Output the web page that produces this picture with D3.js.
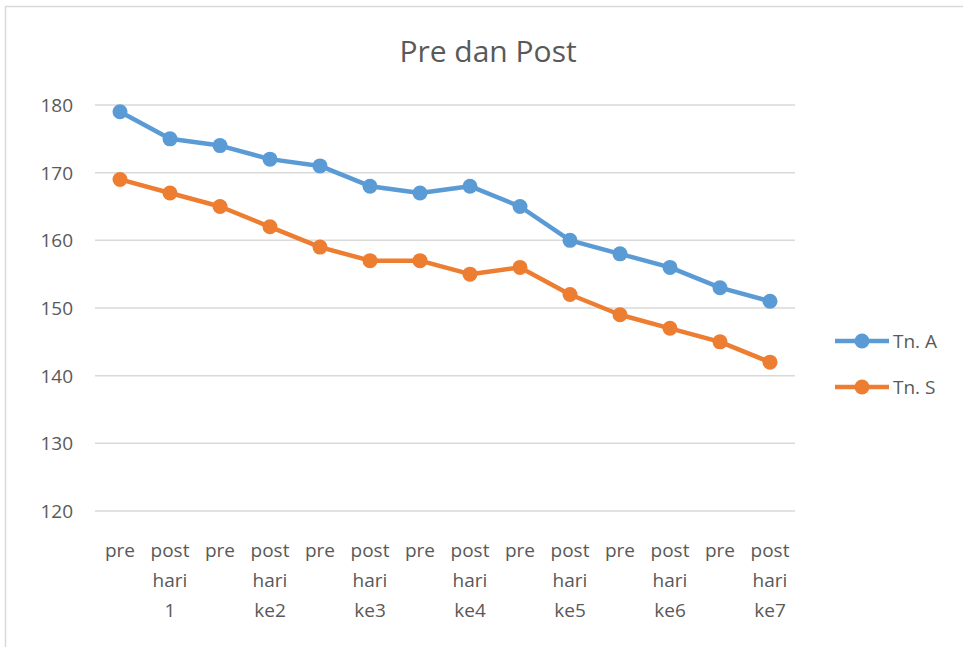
<!DOCTYPE html>
<html>
<head>
<meta charset="utf-8">
<script src="https://cdn.jsdelivr.net/npm/d3@7"></script>
<style>
  body { margin: 0; background: #fff; }
  text { font-family: "Open Sans", "Noto Sans", sans-serif; fill: #595959; }
</style>
</head>
<body>
<div id="chart"></div>
<script>
// categories and series
var categories = ["pre", "post hari 1", "pre", "post hari ke2", "pre", "post hari ke3", "pre",
                  "post hari ke4", "pre", "post hari ke5", "pre", "post hari ke6", "pre", "post hari ke7"];
var tnA = [179, 175, 174, 172, 171, 168, 167, 168, 165, 160, 158, 156, 153, 151];
var tnS = [169, 167, 165, 162, 159, 157, 157, 155, 156, 152, 149, 147, 145, 142];
var yTicks = [120, 130, 140, 150, 160, 170, 180];
var seriesNames = ["Tn. A", "Tn. S"];
var colors = ["#5b9bd5", "#ed7d31"];

var W = 963, H = 647;
var margin = {top: 105, right: 168, bottom: 136, left: 95};

var svg = d3.select("#chart").append("svg")
    .attr("width", W).attr("height", H);

// chart frame
svg.append("rect")
    .attr("x", 5.5).attr("y", 6.5)
    .attr("width", W + 10).attr("height", H + 10)
    .attr("fill", "#fff").attr("stroke", "#d9d9d9").attr("stroke-width", 1.5);

var idx = d3.range(categories.length);
var x = d3.scaleBand().domain(idx).range([margin.left, W - margin.right]);
var y = d3.scaleLinear().domain([120, 180]).range([H - margin.bottom, margin.top]);

// gridlines
svg.append("g").selectAll("line").data(yTicks).enter().append("line")
    .attr("x1", margin.left).attr("x2", W - margin.right)
    .attr("y1", function(d) { return y(d); }).attr("y2", function(d) { return y(d); })
    .attr("stroke", "#d9d9d9").attr("stroke-width", 1.5);

// y labels
svg.append("g").selectAll("text").data(yTicks).enter().append("text")
    .attr("x", 73).attr("y", function(d) { return y(d); })
    .attr("dy", "0.36em")
    .attr("text-anchor", "end")
    .style("font-size", "19px")
    .text(function(d) { return d; });

// x labels, wrapped like the original
var xl = svg.append("g").selectAll("text").data(idx).enter().append("text")
    .attr("x", function(d) { return x(d) + x.bandwidth() / 2; })
    .attr("y", 557)
    .attr("text-anchor", "middle")
    .style("font-size", "19px");
xl.each(function(d) {
  var words = categories[d].split(" ");
  var t = d3.select(this);
  words.forEach(function(w, i) {
    t.append("tspan")
      .attr("x", x(d) + x.bandwidth() / 2)
      .attr("dy", i === 0 ? 0 : 30)
      .text(w);
  });
});

// title
svg.append("text")
    .attr("x", 488).attr("y", 62)
    .attr("text-anchor", "middle")
    .style("font-size", "30px")
    .text("Pre dan Post");

var line = d3.line()
    .x(function(d, i) { return x(i) + x.bandwidth() / 2; })
    .y(function(d) { return y(d); });

[tnA, tnS].forEach(function(data, k) {
  svg.append("path")
      .datum(data)
      .attr("fill", "none")
      .attr("stroke", colors[k])
      .attr("stroke-width", 4.5)
      .attr("stroke-linejoin", "round")
      .attr("d", line);
  svg.append("g").selectAll("circle").data(data).enter().append("circle")
      .attr("cx", function(d, i) { return x(i) + x.bandwidth() / 2; })
      .attr("cy", function(d) { return y(d); })
      .attr("r", 7.5)
      .attr("fill", colors[k]);
});

// legend
var leg = svg.append("g").selectAll("g").data(seriesNames).enter().append("g")
    .attr("transform", function(d, i) { return "translate(835," + (341 + i * 46) + ")"; });
leg.append("line")
    .attr("x1", 0).attr("x2", 54)
    .attr("stroke", function(d, i) { return colors[i]; })
    .attr("stroke-width", 4.5);
leg.append("circle")
    .attr("cx", 27).attr("r", 7.5)
    .attr("fill", function(d, i) { return colors[i]; });
leg.append("text")
    .attr("x", 58).attr("dy", "0.36em")
    .style("font-size", "19px")
    .text(function(d) { return d; });
</script>
</body>
</html>
